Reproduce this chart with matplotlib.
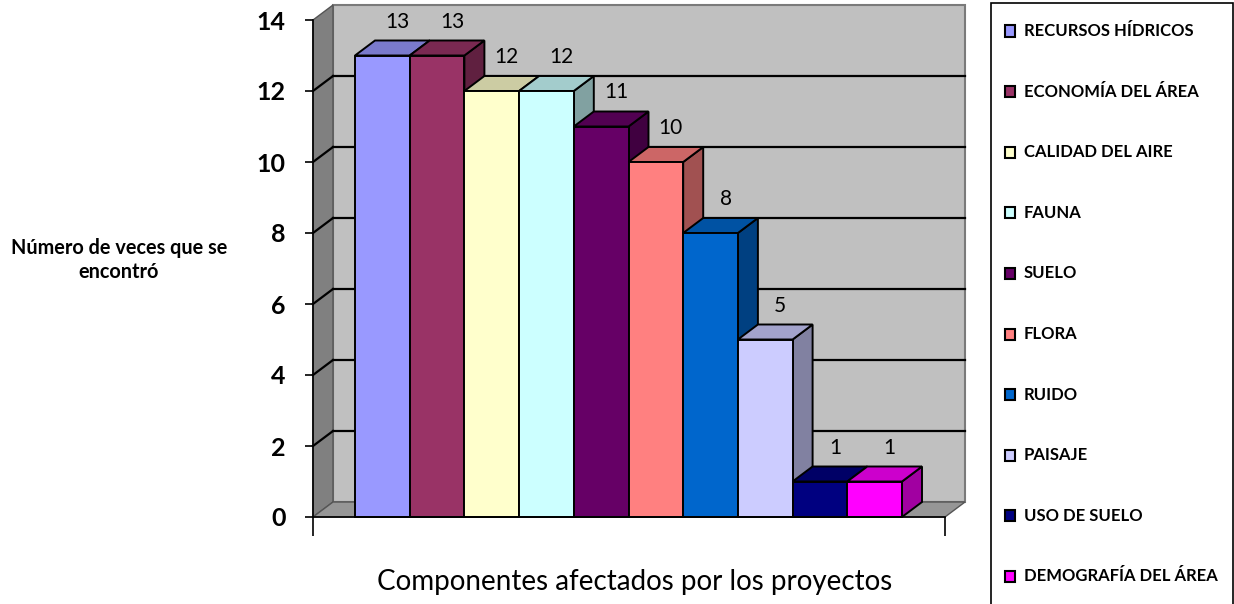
import matplotlib
matplotlib.use("Agg")
import matplotlib.pyplot as plt
from matplotlib.patches import Polygon, Rectangle
from matplotlib.colors import to_rgb

categories = ["RECURSOS HÍDRICOS", "ECONOMÍA DEL ÁREA", "CALIDAD DEL AIRE", "FAUNA",
              "SUELO", "FLORA", "RUIDO", "PAISAJE", "USO DE SUELO", "DEMOGRAFÍA DEL ÁREA"]
values = [13, 13, 12, 12, 11, 10, 8, 5, 1, 1]
colors = ["#9999FF", "#993366", "#FFFFCC", "#CCFFFF", "#660066",
          "#FF8080", "#0066CC", "#CCCCFF", "#000080", "#FF00FF"]
yticks = [0, 2, 4, 6, 8, 10, 12, 14]
ylabel = "Número de veces que se\nencontró"
xlabel = "Componentes afectados por los proyectos"

FONT = "Lato"
W, H = 1234, 604
fig = plt.figure(figsize=(W / 100, H / 100), dpi=100)

# front plane in pixels
L, R, B, T = 313, 945, 517, 20
ax = fig.add_axes([L / W, (H - B) / H, (R - L) / W, (B - T) / H])
bar_px = 54.7
xmin = -0.5 - 42 / bar_px
xmax = len(values) - 0.5 + 43 / bar_px
ymax = 14
ax.set_xlim(xmin, xmax)
ax.set_ylim(0, ymax)
DX = 20 / (R - L) * (xmax - xmin)
DY = 15 / (B - T) * ymax

def shade(c, f):
    r, g, b = to_rgb(c)
    return (r * f, g * f, b * f)

# walls
ax.add_patch(Polygon([(xmin + DX, DY), (xmax + DX, DY), (xmax + DX, ymax + DY), (xmin + DX, ymax + DY)],
                     closed=True, facecolor="#C0C0C0", edgecolor="#7a7a7a", lw=1.5, clip_on=False, zorder=1))
ax.add_patch(Polygon([(xmin, 0), (xmin + DX, DY), (xmin + DX, ymax + DY), (xmin, ymax)],
                     closed=True, facecolor="#808080", edgecolor="#555555", lw=1.0, clip_on=False, zorder=1))
ax.add_patch(Polygon([(xmin, 0), (xmax, 0), (xmax + DX, DY), (xmin + DX, DY)],
                     closed=True, facecolor="#969696", edgecolor="#555555", lw=1.0, clip_on=False, zorder=1))
for v in yticks[1:-1]:
    ax.plot([xmin + DX, xmax + DX], [v + DY, v + DY], color="black", lw=1.6, clip_on=False, zorder=2)
    ax.plot([xmin, xmin + DX], [v, v + DY], color="black", lw=1.6, clip_on=False, zorder=2)

# bars
z = 3
for i, (v, c) in enumerate(zip(values, colors)):
    x0, x1 = i - 0.5, i + 0.5
    ax.add_patch(Polygon([(x1, 0), (x1 + DX, DY), (x1 + DX, v + DY), (x1, v)], closed=True,
                         facecolor=shade(c, 0.63), edgecolor="black", lw=1.4, clip_on=False, zorder=z))
    ax.add_patch(Polygon([(x0, v), (x1, v), (x1 + DX, v + DY), (x0 + DX, v + DY)], closed=True,
                         facecolor=shade(c, 0.8), edgecolor="black", lw=1.4, clip_on=False, zorder=z))
    ax.bar([i], [v], width=1.0, color=c, edgecolor="black", lw=1.4, zorder=z + 0.5, clip_on=False)
    ax.annotate(str(v), (i + DX * 0.75, v + DY), xytext=(0, 9), textcoords="offset pixels",
                ha="center", va="bottom", fontsize=15, family=FONT, zorder=20)
    z += 1

for s in ["top", "right"]:
    ax.spines[s].set_visible(False)
ax.spines["left"].set_linewidth(1.2)
ax.spines["bottom"].set_linewidth(1.2)
ax.spines["left"].set_zorder(30)
ax.spines["bottom"].set_zorder(30)
ax.patch.set_visible(False)
ax.set_yticks(yticks)
ax.set_yticklabels([str(t) for t in yticks], fontsize=18, fontweight="bold", family=FONT)
ax.tick_params(axis="y", length=5.8, width=1.2, pad=14)
ax.set_xticks([xmin, xmax])
ax.set_xticklabels(["", ""])
ax.tick_params(axis="x", length=13.7, width=1.2)

fig.text(119 / W, 1 - 260 / H, ylabel, ha="center", va="center", fontsize=14.3,
         fontweight="bold", family=FONT, linespacing=1.25)
fig.text(635 / W, 1 - 582 / H, xlabel, ha="center", va="center", fontsize=20, family=FONT)

# legend box
fig.patches.append(Rectangle((991 / W, 1 - 610 / H), (1233 - 991) / W, 607 / H, transform=fig.transFigure,
                             facecolor="white", edgecolor="black", lw=1.2, zorder=0))
for k, (name, c) in enumerate(zip(categories, colors)):
    yc = 31 + k * 60.6
    fig.patches.append(Rectangle((1005 / W, 1 - (yc + 5.5) / H), 10 / W, 11 / H, transform=fig.transFigure,
                                 facecolor=c, edgecolor="black", lw=1.5, zorder=2))
    fig.text(1024 / W, 1 - yc / H, name, ha="left", va="center", fontsize=12,
             fontweight="bold", family=FONT)

fig.savefig("out.png", dpi=100)
